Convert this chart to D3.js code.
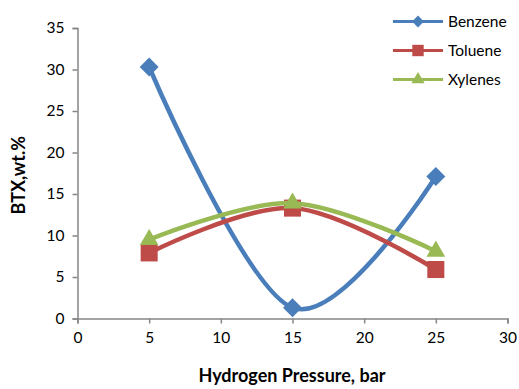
<!DOCTYPE html>
<html>
<head>
<meta charset="utf-8">
<script src="https://cdn.jsdelivr.net/npm/d3@7"></script>
<style>
  html, body { margin: 0; padding: 0; background: #fff; }
  svg { display: block; font-family: Lato, "Open Sans", sans-serif; }
</style>
</head>
<body>
<svg id="chart" width="519" height="389"></svg>
<script>
// Hydrogen pressure (bar) and BTX yields (wt.%)
const pressures = [5, 15, 25];
const benzene = [30.3, 1.3, 17.1];
const toluene = [7.9, 13.3, 5.9];
const xylenes = [9.5, 13.9, 8.1];
const xTicks = [0, 5, 10, 15, 20, 25, 30];
const yTicks = [0, 5, 10, 15, 20, 25, 30, 35];

const series = [
  { name: "Benzene", values: benzene, color: "#4A7EBB", marker: d3.symbolSquare, rot: 45, size: 180, legendSize: 70 },
  { name: "Toluene", values: toluene, color: "#BE4B48", marker: d3.symbolSquare, rot: 0, size: 290, legendSize: 130 },
  { name: "Xylenes", values: xylenes, color: "#98B954", marker: d3.symbolTriangle, rot: 0, size: 150, legendSize: 75 }
];

const svg = d3.select("#chart");
const x = d3.scaleLinear().domain([0, 30]).range([77.5, 507.5]);
const y = d3.scaleLinear().domain([0, 35]).range([318.5, 28]);
const axisColor = "#868686";

// Axes
const xAxis = svg.append("g").attr("transform", `translate(0,${y(0)})`)
  .call(d3.axisBottom(x).tickValues(xTicks).tickSize(5).tickPadding(8));
const yAxis = svg.append("g").attr("transform", `translate(${x(0)},0)`)
  .call(d3.axisLeft(y).tickValues(yTicks).tickSize(5).tickPadding(8));
[xAxis, yAxis].forEach(g => {
  g.select(".domain").attr("stroke", axisColor).attr("stroke-width", 1.5);
  g.selectAll(".tick line").attr("stroke", axisColor).attr("stroke-width", 1.5);
  g.selectAll(".tick text").attr("fill", "#000").style("font-size", "15.5px")
    .style("font-family", "Lato, 'Open Sans', sans-serif");
});

// Axis titles
svg.append("text").attr("x", 292).attr("y", 382)
  .attr("text-anchor", "middle").style("font-size", "18px").style("font-weight", "bold")
  .text("Hydrogen Pressure, bar");
svg.append("text").attr("transform", `translate(25,${y(17.5) + 2}) rotate(-90)`)
  .attr("text-anchor", "middle").style("font-size", "18px").style("font-weight", "bold")
  .text("BTX,wt.%");

// Smoothed lines with markers
const line = d3.line().x(d => x(d[0])).y(d => y(d[1])).curve(d3.curveCardinal.tension(0));
series.forEach(s => {
  const pts = pressures.map((p, i) => [p, s.values[i]]);
  svg.append("path").datum(pts).attr("d", line)
    .attr("fill", "none").attr("stroke", s.color).attr("stroke-width", 4.5)
    .attr("stroke-linejoin", "round").attr("stroke-linecap", "round");
  svg.selectAll(null).data(pts).enter().append("path")
    .attr("d", d3.symbol().type(s.marker).size(s.size))
    .attr("transform", d => `translate(${x(d[0])},${y(d[1])}) rotate(${s.rot})`)
    .attr("fill", s.color);
});

// Legend
const legend = svg.append("g");
series.forEach((s, i) => {
  const ly = 21.5 + i * 29;
  legend.append("line").attr("x1", 393).attr("x2", 443).attr("y1", ly).attr("y2", ly)
    .attr("stroke", s.color).attr("stroke-width", 3);
  legend.append("path").attr("d", d3.symbol().type(s.marker).size(s.legendSize))
    .attr("transform", `translate(418,${ly}) rotate(${s.rot})`).attr("fill", s.color);
  legend.append("text").attr("x", 448).attr("y", ly + 5.5)
    .style("font-size", "15.5px").text(s.name);
});
</script>
</body>
</html>
